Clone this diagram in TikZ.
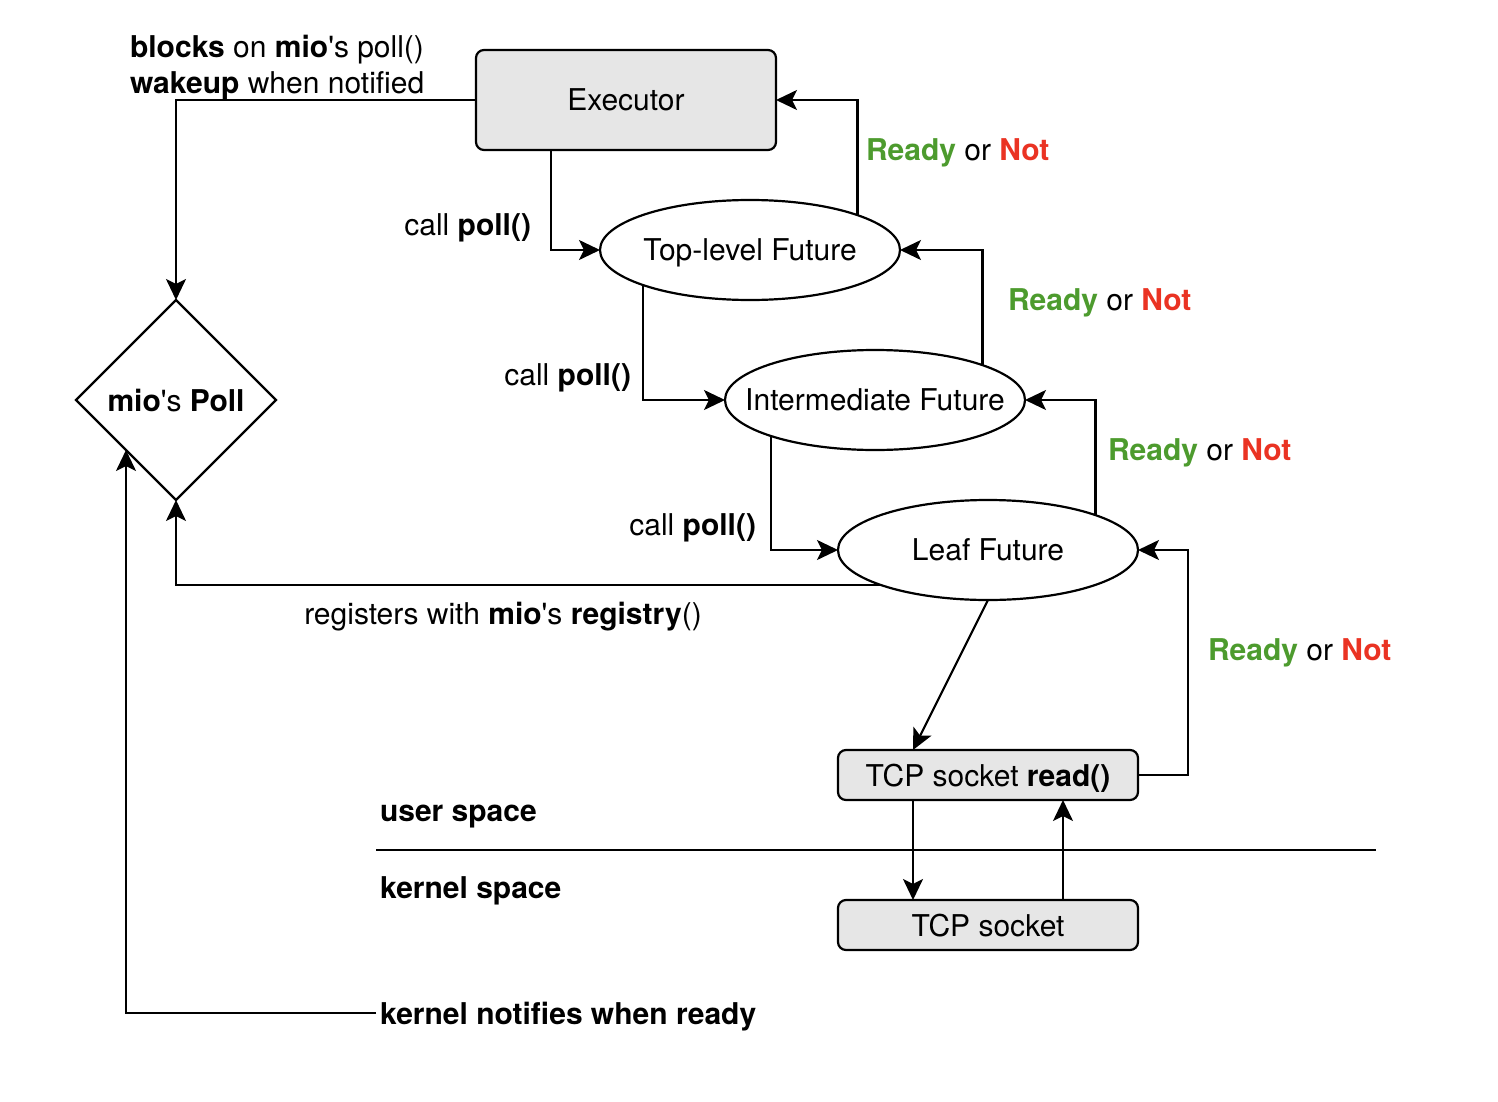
\documentclass[tikz,border=0pt]{standalone}
\usepackage{fontspec}
\setmainfont{TeX Gyre Heros}[Ligatures=TeXOff]
\usepackage{xcolor}
\usepackage{tikz}
\usetikzlibrary{arrows.meta}
\usetikzlibrary{positioning}
\usetikzlibrary{shapes.geometric}
\usetikzlibrary{calc}
\definecolor{listo}{HTML}{4D9B2E}
\definecolor{nolisto}{HTML}{EA3323}
\definecolor{gris}{HTML}{E6E6E6}
\newcommand{\listoono}{{\bfseries\color{listo}Ready} or {\bfseries\color{nolisto}Not}}

\begin{document}
\begin{tikzpicture}[x=0.5pt, y=-0.5pt, line width=1.1pt,
        every node/.style={font=\fontsize{15}{18}\selectfont, outer sep=0pt, text depth=0pt},
        caja/.style={draw, rounded corners=4pt, fill=gris, minimum width=150pt, inner sep=0pt},
        futuro/.style={draw, ellipse, minimum width=150pt, minimum height=50pt, inner ysep=0pt, inner xsep=-20pt},
        flecha/.style={-{Stealth[length=10.5pt, width=10pt, inset=2.5pt]}},
        texto/.style={inner sep=0pt}]

        \useasboundingbox (0,0) rectangle (1498,1102);

        % Nodos
        \node[caja, minimum height=50pt] (exec) at (626,100) {Executor};
        \node[futuro] (top) at (750,250) {Top-level Future};
        \node[futuro] (mid) at (875,400) {Intermediate Future};
        \node[futuro] (leaf) at (988,550) {Leaf Future};
        \node[draw, diamond, aspect=1, minimum width=100pt, minimum height=100pt, inner sep=0pt] (poll) at (176,400) {\textbf{mio}'s \textbf{Poll}};
        \node[caja, minimum height=25pt] (read) at (988,775) {TCP socket \textbf{read()}};
        \node[caja, minimum height=25pt] (sock) at (988,925) {TCP socket};

        % Textos
        \node[texto, anchor=west, align=left] (bloq) at (130,64) {\textbf{blocks} on \textbf{mio}'s poll()\\\textbf{wakeup} when notified};
        \node[texto, anchor=east] (c1) at (531,225) {call \textbf{poll()}};
        \node[texto, anchor=east] (c2) at (631,375) {call \textbf{poll()}};
        \node[texto, anchor=east] (c3) at (756,525) {call \textbf{poll()}};
        \node[texto, anchor=west] (r1) at (866,150) {\listoono};
        \node[texto, anchor=west] (r2) at (1008,300) {\listoono};
        \node[texto, anchor=west] (r3) at (1108,450) {\listoono};
        \node[texto, anchor=west] (r4) at (1208,650) {\listoono};
        \node[texto] (reg) at (503,613) {registers with \textbf{mio}'s \textbf{registry}()};
        \node[texto, anchor=west] (user) at (380,813) {\textbf{user space}};
        \node[texto, anchor=west] (kern) at (380,888) {\textbf{kernel space}};
        \node[anchor=west, inner sep=2pt] (notif) at (376,1013) {\textbf{kernel notifies when ready}};

        % Separacion
        \coordinate (sepA) at (376,850);
        \coordinate (sepB) at (1376,850);
        \draw (sepA) -- (sepB);

        % Flechas
        \draw[flecha] (exec.west) -| (poll.north);
        \draw[flecha] ($(exec.south west)!0.25!(exec.south east)$) |- (top.west);
        \draw[flecha] (top.198) |- (mid.west);
        \draw[flecha] (mid.199) |- (leaf.west);
        \draw[flecha] (top.18) |- (exec.east);
        \draw[flecha] (mid.18) |- (top.east);
        \draw[flecha] (leaf.18) |- (mid.east);
        \draw[flecha] (read.east) -- ++(50,0) |- (leaf.east);
        \draw[flecha] (leaf.south) -- ($(read.north west)!0.25!(read.north east)$);
        \draw[flecha] ($(read.south west)!0.25!(read.south east)$) -- ($(sock.north west)!0.25!(sock.north east)$);
        \draw[flecha] ($(sock.north west)!0.75!(sock.north east)$) -- ($(read.south west)!0.75!(read.south east)$);
        \draw[flecha] (leaf.198) -| (poll.south);
        \draw[flecha] (notif.west) -| (poll.south west);

    \end{tikzpicture}
\end{document}
